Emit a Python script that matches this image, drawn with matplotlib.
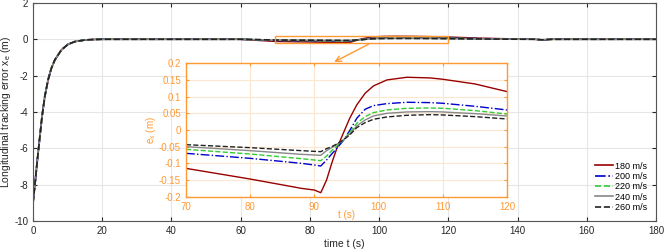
import matplotlib.pyplot as plt
from matplotlib.ticker import FuncFormatter

plt.rcParams['font.family'] = ['Liberation Sans', 'DejaVu Sans']
plt.rcParams['axes.unicode_minus'] = False
plt.rcParams['mathtext.default'] = 'regular'

# values
speeds = ['180 m/s', '200 m/s', '220 m/s', '240 m/s', '260 m/s']

# start-up transient (same for all speeds)
t_rise = [0, 0.5, 1.26, 1.93, 2.6, 3.4, 4.35, 5.3, 6.3, 8.2, 10.1, 12.1, 15, 18, 20, 40, 60, 70]
e_rise = [-9.0, -8.1, -6.64, -5.45, -4.26, -3.16, -2.24, -1.6, -1.14, -0.59, -0.28, -0.13, -0.04, -0.01, 0, 0, 0, 0]

# disturbance around t = 90 s (zoomed in the inset)
t_dist = [70, 80, 88, 90, 91, 91.9, 92.7, 93.5, 94.5, 95.5, 96.6, 97.9, 99.2, 101.3, 104.4, 108, 110, 115, 120]
e_180 = [-0.115, -0.147, -0.175, -0.18, -0.188, -0.15, -0.10, -0.055, -0.01, 0.035, 0.075, 0.11, 0.132, 0.15, 0.158, 0.156, 0.152, 0.138, 0.115]
e_200 = [-0.07, -0.085, -0.1, -0.105, -0.108, -0.09, -0.072, -0.055, -0.032, -0.002, 0.035, 0.062, 0.073, 0.079, 0.083, 0.082, 0.08, 0.071, 0.06]
e_220 = [-0.058, -0.072, -0.086, -0.09, -0.092, -0.078, -0.062, -0.048, -0.03, -0.008, 0.02, 0.04, 0.052, 0.06, 0.065, 0.066, 0.065, 0.058, 0.048]
e_240 = [-0.05, -0.062, -0.073, -0.075, -0.076, -0.062, -0.053, -0.043, -0.03, -0.012, 0.012, 0.03, 0.042, 0.05, 0.054, 0.055, 0.054, 0.049, 0.042]
e_260 = [-0.044, -0.053, -0.062, -0.064, -0.065, -0.056, -0.05, -0.042, -0.03, -0.015, 0.007, 0.022, 0.032, 0.039, 0.044, 0.046, 0.045, 0.04, 0.033]

# settling after the disturbance
t_end = [130, 140, 145, 147, 150, 160, 180]
e_end_180 = [0.05, 0.01, 0.0, -0.05, 0.0, 0.0, 0.0]
e_end_200 = [0.03, 0.005, 0.0, -0.04, 0.0, 0.0, 0.0]
e_end_220 = [0.025, 0.004, 0.0, -0.035, 0.0, 0.0, 0.0]
e_end_240 = [0.02, 0.003, 0.0, -0.03, 0.0, 0.0, 0.0]
e_end_260 = [0.015, 0.002, 0.0, -0.03, 0.0, 0.0, 0.0]

dist_all = [e_180, e_200, e_220, e_240, e_260]
end_all = [e_end_180, e_end_200, e_end_220, e_end_240, e_end_260]

colors = ['#990000', '#0000cc', '#33cc33', '#888888', '#222222']
styles = ['-', '-.', '--', '-', '--']

orange = '#ff9933'
tick_col = '#262626'

fig = plt.figure(figsize=(6.64, 2.49), dpi=100)
ax = fig.add_axes([0.0497, 0.1124, 0.9383, 0.876])

t_full = t_rise[:-1] + t_dist + t_end
for i in range(5):
    e_full = e_rise[:-1] + dist_all[i] + end_all[i]
    ax.plot(t_full, e_full, color=colors[i], ls=styles[i], lw=1.2, label=speeds[i])

ax.set_xlim(0, 180)
ax.set_ylim(-10, 2)
ax.set_xticks(range(0, 181, 20))
ax.set_yticks(range(-10, 3, 2))
ax.grid(True, color='#e6e6e6', lw=0.8)
ax.tick_params(direction='in', top=True, right=True, labelsize=7, colors=tick_col, length=3)
for s in ax.spines.values():
    s.set_color('#555555')
    s.set_linewidth(0.8)
ax.set_xlabel('time t (s)', fontsize=7.5, color=tick_col, labelpad=2)
ax.set_ylabel('Longitudinal tracking error x$_e$ (m)', fontsize=7.5, color=tick_col, labelpad=1)

ax.legend(loc='lower right', frameon=False, fontsize=6.5, handlelength=2.0,
          handletextpad=0.2, labelspacing=0.15, borderaxespad=0.6)

# zoom rectangle
ax.add_patch(plt.Rectangle((70, -0.2), 50, 0.4, fill=False, ec=orange, lw=1.0, zorder=5))

# inset
axi = fig.add_axes([0.280, 0.21, 0.4836, 0.536])
for i in range(5):
    axi.plot(t_dist, dist_all[i], color=colors[i], ls=styles[i], lw=1.0)
axi.set_xlim(70, 120)
axi.set_ylim(-0.2, 0.2)
axi.set_xticks(range(70, 121, 10))
axi.set_yticks([-0.2, -0.15, -0.1, -0.05, 0, 0.05, 0.1, 0.15, 0.2])
axi.yaxis.set_major_formatter(FuncFormatter(lambda v, p: '%g' % round(v, 2)))
axi.grid(True, color='#fbe6cf', lw=0.8)
axi.tick_params(direction='in', top=True, right=True, labelsize=7, colors=orange, length=2.5)
for s in axi.spines.values():
    s.set_color(orange)
    s.set_linewidth(1.0)
axi.set_xlabel('t (s)', fontsize=7, color=orange, labelpad=-1)
axi.set_ylabel('e$_x$ (m)', fontsize=7, color=orange, labelpad=1)

axi.annotate('', xy=(92.7, 0.2), xycoords=axi.transData,
             xytext=(97.7, -0.2), textcoords=ax.transData,
             arrowprops=dict(arrowstyle='->', color=orange, lw=1.0))

fig.savefig('out.png', dpi=100)
